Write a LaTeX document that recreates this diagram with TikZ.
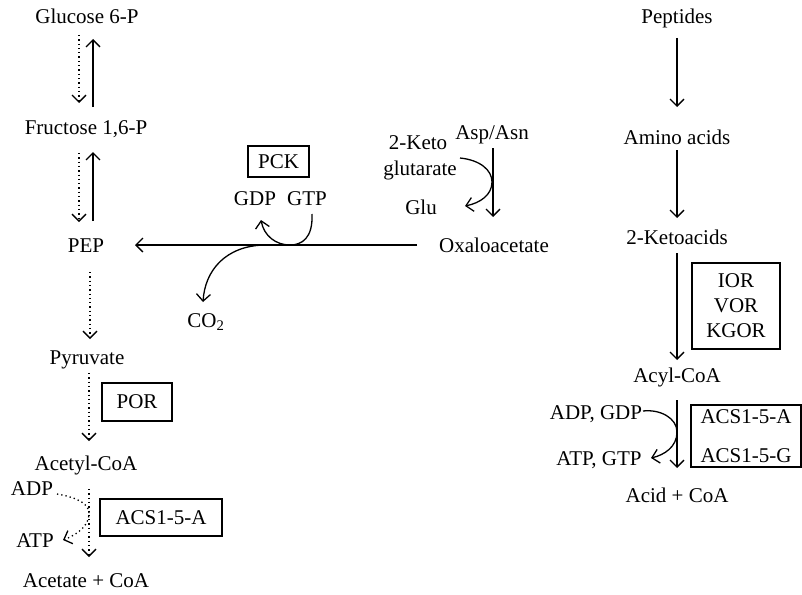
\documentclass[tikz,border=0pt]{standalone}
\usepackage{fontspec}
\setmainfont{Liberation Serif}
\usetikzlibrary{arrows.meta}
\begin{document}
\begin{tikzpicture}[x=1pt,y=-1pt,
  lbl/.style={anchor=base, inner sep=0pt, font=\fontsize{21}{25}\selectfont},
  arr/.style={line width=1.3pt, -{Straight Barb[length=7pt,width=14pt]}},
  dotarr/.style={arr, dash pattern=on 1.3pt off 3pt},
  enz/.style={draw, line width=1.3pt, inner sep=0pt, font=\fontsize{21}{25}\selectfont, align=center}]
\useasboundingbox (0,0) rectangle (802,594);

% ---------- left column labels ----------
\node[lbl] (g6p) at (87,24) {Glucose 6-P};
\node[lbl] (f16p) at (86,134) {Fructose 1,6-P};
\node[lbl] (pep) at (86,252) {PEP};
\node[lbl] (pyr) at (87,364) {Pyruvate};
\node[lbl] (acoa) at (86,470) {Acetyl-CoA};
\node[lbl] (adpL) at (32,495) {ADP};
\node[lbl] (atpL) at (35,547) {ATP};
\node[lbl] (acetate) at (86,587) {Acetate + CoA};

% ---------- middle labels ----------
\node[lbl] (oxa) at (494,252) {Oxaloacetate};
\node[lbl] (asp) at (492,139) {Asp/Asn};
\node[lbl] (keto) at (418,149) {2-Keto};
\node[lbl] (glut) at (420,175) {glutarate};
\node[lbl] (glu) at (421,214) {Glu};
\node[lbl] (gdp) at (255,205) {GDP};
\node[lbl] (gtp) at (307,205) {GTP};
\node[lbl] (co2) at (206,327) {CO\textsubscript{2}};

% ---------- right column labels ----------
\node[lbl] (pept) at (677,24) {Peptides};
\node[lbl] (amino) at (677,144) {Amino acids};
\node[lbl] (keto2) at (677,244) {2-Ketoacids};
\node[lbl] (acyl) at (677,382) {Acyl-CoA};
\node[lbl] (adpR) at (596,419) {ADP, GDP};
\node[lbl] (atpR) at (599,465) {ATP, GTP};
\node[lbl] (acid) at (677,502) {Acid + CoA};

% ---------- enzyme boxes ----------
\node[enz, minimum width=61pt, minimum height=31pt] (pck) at (278.5,161.5) {PCK};
\node[enz, minimum width=70pt, minimum height=38pt] (por) at (137,402) {POR};
\node[enz, minimum width=122pt, minimum height=37pt] (acsL) at (161,517.5) {ACS1-5-A};
\node[enz, minimum width=88pt, minimum height=86pt] (ior) at (736,306) {IOR\\VOR\\KGOR};
\node[enz, minimum width=110pt, minimum height=62pt, font=\fontsize{21}{39}\selectfont] (acsR) at (746,436) {ACS1-5-A\\ACS1-5-G};

% ---------- connector end points ----------
\coordinate (a1s) at (79,35);  \coordinate (a1e) at (79,103);
\coordinate (b1s) at (93,107); \coordinate (b1e) at (93,39);
\coordinate (a2s) at (79,153); \coordinate (a2e) at (79,222);
\coordinate (b2s) at (93,221); \coordinate (b2e) at (93,152);
\coordinate (c1s) at (90,272); \coordinate (c1e) at (90,339);
\coordinate (c2s) at (89,373); \coordinate (c2e) at (89,441);
\coordinate (c3s) at (89,489); \coordinate (c3e) at (89,557);
\coordinate (ms) at (417,245); \coordinate (me) at (135,245);
\coordinate (r1s) at (677,38);  \coordinate (r1e) at (677,107);
\coordinate (r2s) at (677,150); \coordinate (r2e) at (677,218);
\coordinate (r3s) at (677,253); \coordinate (r3e) at (677,360);
\coordinate (r4s) at (677,400); \coordinate (r4e) at (677,468);
\coordinate (asps) at (493,148); \coordinate (aspe) at (493,217);

% ---------- left column arrows ----------
\draw[dotarr] (a1s) -- (a1e);
\draw[arr] (b1s) -- (b1e);
\draw[dotarr] (a2s) -- (a2e);
\draw[arr] (b2s) -- (b2e);
\draw[dotarr] (c1s) -- (c1e);
\draw[dotarr] (c2s) -- (c2e);
\draw[dotarr] (c3s) -- (c3e);
\draw[dotarr] (57,494) .. controls (80,498) and (90,505) .. (89,515)
   .. controls (88,527) and (76,535) .. (63,540);

% ---------- PCK reaction ----------
\draw[arr] (ms) -- (me);
\draw[arr] (312,214) .. controls (313,238) and (302,245) .. (290,245)
   .. controls (276,245) and (264,236) .. (261,220);
\draw[arr] (264,245) .. controls (226,246) and (205,270) .. (203,302);

% ---------- Asp transamination ----------
\draw[arr] (asps) -- (aspe);
\draw[arr] (460,158) .. controls (480,160) and (492,170) .. (492,182)
   .. controls (492,195) and (480,203) .. (465,206);

% ---------- right column arrows ----------
\draw[arr] (r1s) -- (r1e);
\draw[arr] (r2s) -- (r2e);
\draw[arr] (r3s) -- (r3e);
\draw[arr] (r4s) -- (r4e);
\draw[arr] (643,411) .. controls (660,409) and (677,418) .. (677,432)
   .. controls (677,447) and (664,455) .. (651,458);
\end{tikzpicture}
\end{document}
